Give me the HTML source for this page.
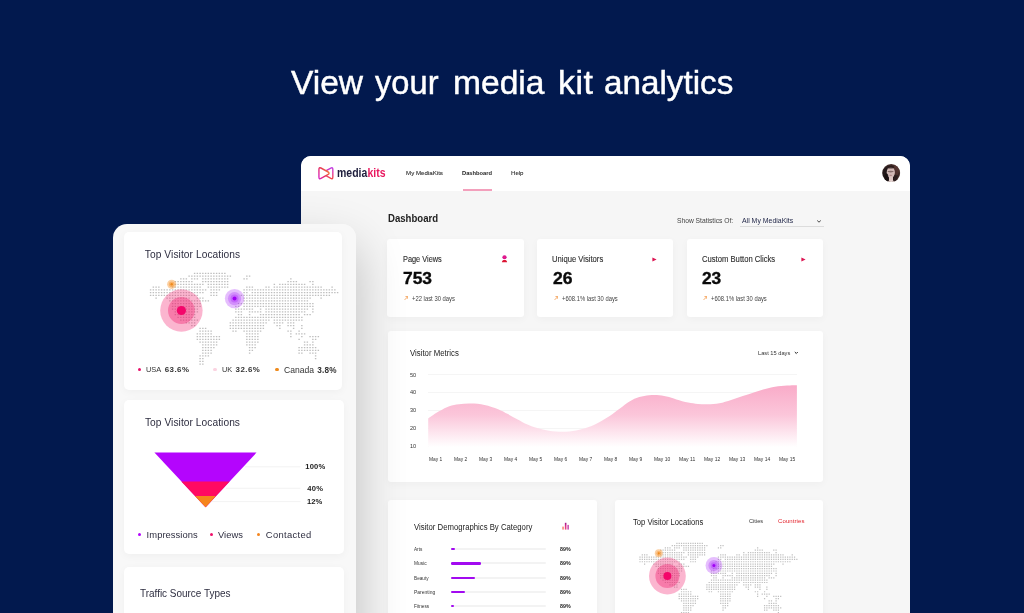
<!DOCTYPE html>
<html><head><meta charset="utf-8"><title>View your media kit analytics</title>
<style>
html,body{margin:0;padding:0;}
body{width:1024px;height:613px;overflow:hidden;background:#02194e;position:relative;font-family:"Liberation Sans",sans-serif;}
.t{position:absolute;white-space:nowrap;line-height:1;font-family:"Liberation Sans",sans-serif;transform-origin:0 50%;}
#w{position:absolute;left:0;top:0;width:1024px;height:613px;will-change:transform;filter:blur(0.35px);}
</style></head><body><div id="w">
<div class="t" style="left:290.50px;top:65.02px;font-size:34px;color:#fff;transform:scaleX(0.9852);-webkit-text-stroke:0.45px #fff;">View</div>
<div class="t" style="left:374.50px;top:65.02px;font-size:34px;color:#fff;transform:scaleX(0.9601);-webkit-text-stroke:0.45px #fff;">your</div>
<div class="t" style="left:453.00px;top:65.02px;font-size:34px;color:#fff;transform:scaleX(0.9881);-webkit-text-stroke:0.45px #fff;">media</div>
<div class="t" style="left:558.00px;top:65.02px;font-size:34px;color:#fff;letter-spacing:0.500px;-webkit-text-stroke:0.45px #fff;">kit</div>
<div class="t" style="left:603.75px;top:65.02px;font-size:34px;color:#fff;transform:scaleX(0.9771);-webkit-text-stroke:0.45px #fff;">analytics</div>
<div style="position:absolute;left:301px;top:155.7px;width:609px;height:477.3px;background:#f6f6f6;border-radius:10px 10px 0 0;overflow:hidden;"><div style="position:absolute;left:0;top:0;width:100%;height:35.10px;background:#fff;"></div></div>
<svg style="position:absolute;left:318.19px;top:165.86px" width="15.87" height="14.86" viewBox="0 0 17 14" preserveAspectRatio="none">
<defs><linearGradient id="lg1" gradientUnits="userSpaceOnUse" x1="0" y1="13" x2="13" y2="3"><stop offset="0" stop-color="#d61ae0"/><stop offset="0.5" stop-color="#e62d5c"/><stop offset="1" stop-color="#f79a2c"/></linearGradient>
<linearGradient id="lg2" gradientUnits="userSpaceOnUse" x1="0" y1="0.5" x2="0" y2="13"><stop offset="0" stop-color="#b93cf2"/><stop offset="0.5" stop-color="#e2349a"/><stop offset="1" stop-color="#f24a36"/></linearGradient></defs>
<path d="M15.90 3.31Q15.90 0.90 13.74 1.96L6.64 5.45Q3.90 6.80 6.64 8.15L13.74 11.64Q15.90 12.70 15.90 10.29Z" fill="none" stroke="url(#lg2)" stroke-width="1.45"/>
<path d="M1.00 3.28Q1.00 0.90 3.15 1.93L10.48 5.45Q13.30 6.80 10.48 8.15L3.15 11.67Q1.00 12.70 1.00 10.32Z" fill="#fff" stroke="url(#lg1)" stroke-width="1.45"/>
</svg>
<div class="t" style="left:337.00px;top:166.83px;font-size:12.6px;color:#1d1d3b;font-weight:700;transform:scaleX(0.8344);">media<span style="color:#e9185f">kits</span></div>
<div class="t" style="left:405.50px;top:169.95px;font-size:6.2px;color:#333;transform:scaleX(0.9944);-webkit-text-stroke:0.12px #333;">My MediaKits</div>
<div class="t" style="left:462.00px;top:169.95px;font-size:6.2px;color:#222;font-weight:700;transform:scaleX(0.9264);">Dashboard</div>
<div class="t" style="left:510.75px;top:169.95px;font-size:6.2px;color:#333;transform:scaleX(0.9803);-webkit-text-stroke:0.12px #333;">Help</div>
<div class="" style="position:absolute;left:463.00px;top:189.10px;width:29.00px;height:1.50px;background:#f3a0bc;"></div>
<svg style="position:absolute;left:882.2px;top:164.2px" width="18.4" height="18.4" viewBox="0 0 18.4 18.4">
<defs><clipPath id="av"><circle cx="9.2" cy="9.1" r="9.0"/></clipPath>
<radialGradient id="avg" cx="0.42" cy="0.55" r="0.62"><stop offset="0" stop-color="#1a1416"/><stop offset="0.6" stop-color="#231819"/><stop offset="1" stop-color="#5e3f38"/></radialGradient>
<filter id="bl" x="-30%" y="-30%" width="160%" height="160%"><feGaussianBlur stdDeviation="0.55"/></filter></defs>
<g clip-path="url(#av)"><rect width="18.4" height="18.4" fill="url(#avg)"/>
<g filter="url(#bl)">
<ellipse cx="13.6" cy="6.5" rx="3.2" ry="5.5" fill="#5a3a35" opacity=".8"/>
<ellipse cx="8.8" cy="8.5" rx="4.1" ry="5.6" fill="#d2b9b6"/>
<rect x="7.0" y="12.6" width="4.0" height="6.5" fill="#dcc6c3"/>
<ellipse cx="9.2" cy="19.3" rx="5.4" ry="2.8" fill="#eadbd8"/>
<ellipse cx="8.6" cy="7.6" rx="3.2" ry="0.8" fill="#4a3232" opacity=".55"/>
<ellipse cx="8.7" cy="11.3" rx="1.3" ry="0.55" fill="#8a5558" opacity=".6"/>
<ellipse cx="8.7" cy="3.2" rx="3.6" ry="1.4" fill="#2a1c1c" opacity=".8"/>
<ellipse cx="4.6" cy="13.5" rx="1.8" ry="4" fill="#151012" opacity=".9"/>
<ellipse cx="13.4" cy="14" rx="1.7" ry="3.6" fill="#2b1e1e" opacity=".9"/>
</g></g></svg>
<div class="t" style="left:388.00px;top:214.00px;font-size:10.4px;color:#222;font-weight:700;transform:scaleX(0.9241);">Dashboard</div>
<div class="t" style="left:676.75px;top:217.27px;font-size:7px;color:#444;transform:scaleX(0.9567);">Show Statistics Of:</div>
<div class="t" style="left:742.00px;top:217.27px;font-size:7px;color:#1d2345;transform:scaleX(0.9897);">All My MediaKits</div>
<div class="" style="position:absolute;left:740.00px;top:225.50px;width:83.70px;height:0.80px;background:#dcdcdc;"></div>
<svg style="position:absolute;left:815.5px;top:218.5px" width="6" height="5" viewBox="0 0 6 5"><path d="M1.2 1.5 L3 3.2 L4.8 1.5" fill="none" stroke="#333" stroke-width="0.9"/></svg>
<div class="" style="position:absolute;left:387.00px;top:238.75px;width:137.20px;height:78.25px;background:#fff;box-shadow:0 2px 8px rgba(0,0,0,0.035);border-radius:3px;"></div>
<div class="t" style="left:402.50px;top:254.72px;font-size:8.6px;color:#2c2c2c;transform:scaleX(0.8562);-webkit-text-stroke:0.12px #2c2c2c;">Page Views</div>
<div class="t" style="left:403.00px;top:269.99px;font-size:16.2px;color:#0a0a0a;font-weight:700;transform:scaleX(1.0729);-webkit-text-stroke:0.35px #0a0a0a;">753</div>
<div class="t" style="left:412.00px;top:296.04px;font-size:6.8px;color:#444;transform:scaleX(0.8650);">+22 last 30 days</div>
<svg style="position:absolute;left:403.5px;top:296.0px" width="4.4" height="4.4" viewBox="0 0 4.4 4.4"><path d="M0.6 3.9 L3.7 0.8 M1.5 0.6 H3.9 V3" fill="none" stroke="#f39a4a" stroke-width="0.85"/></svg>
<div class="" style="position:absolute;left:537.00px;top:238.75px;width:136.30px;height:78.25px;background:#fff;box-shadow:0 2px 8px rgba(0,0,0,0.035);border-radius:3px;"></div>
<div class="t" style="left:552.00px;top:254.72px;font-size:8.6px;color:#2c2c2c;transform:scaleX(0.8885);-webkit-text-stroke:0.12px #2c2c2c;">Unique Visitors</div>
<div class="t" style="left:552.50px;top:269.99px;font-size:16.2px;color:#0a0a0a;font-weight:700;transform:scaleX(1.0822);-webkit-text-stroke:0.35px #0a0a0a;">26</div>
<div class="t" style="left:561.75px;top:296.04px;font-size:6.8px;color:#444;transform:scaleX(0.8549);">+608.1% last 30 days</div>
<svg style="position:absolute;left:553.5px;top:296.0px" width="4.4" height="4.4" viewBox="0 0 4.4 4.4"><path d="M0.6 3.9 L3.7 0.8 M1.5 0.6 H3.9 V3" fill="none" stroke="#f39a4a" stroke-width="0.85"/></svg>
<div class="" style="position:absolute;left:686.75px;top:238.75px;width:136.25px;height:78.25px;background:#fff;box-shadow:0 2px 8px rgba(0,0,0,0.035);border-radius:3px;"></div>
<div class="t" style="left:701.75px;top:254.72px;font-size:8.6px;color:#2c2c2c;transform:scaleX(0.8911);-webkit-text-stroke:0.12px #2c2c2c;">Custom Button Clicks</div>
<div class="t" style="left:702.00px;top:269.99px;font-size:16.2px;color:#0a0a0a;font-weight:700;transform:scaleX(1.0683);-webkit-text-stroke:0.35px #0a0a0a;">23</div>
<div class="t" style="left:711.25px;top:296.04px;font-size:6.8px;color:#444;transform:scaleX(0.8549);">+608.1% last 30 days</div>
<svg style="position:absolute;left:703px;top:296.0px" width="4.4" height="4.4" viewBox="0 0 4.4 4.4"><path d="M0.6 3.9 L3.7 0.8 M1.5 0.6 H3.9 V3" fill="none" stroke="#f39a4a" stroke-width="0.85"/></svg>
<svg style="position:absolute;left:500.9px;top:254.8px" width="7" height="8" viewBox="0 0 7 8">
<defs><radialGradient id="hd"><stop offset="0" stop-color="#f21a8a"/><stop offset="1" stop-color="#d0128c"/></radialGradient></defs>
<circle cx="3.5" cy="2.25" r="2.1" fill="url(#hd)"/><path d="M0.9 7.2 C0.9 5.6 2.1 5.0 3.5 5.0 C4.9 5.0 6.1 5.6 6.1 7.2 Z" fill="#dc1533"/></svg>
<svg style="position:absolute;left:651.8px;top:256.6px" width="5" height="5" viewBox="0 0 5 5"><path d="M0.4 0.4 L4.6 2.5 L0.4 4.6 Z" fill="#dc1452"/></svg>
<svg style="position:absolute;left:801.2px;top:256.6px" width="5" height="5" viewBox="0 0 5 5"><path d="M0.4 0.4 L4.6 2.5 L0.4 4.6 Z" fill="#dc1452"/></svg>
<div class="" style="position:absolute;left:387.60px;top:330.70px;width:435.60px;height:151.60px;background:#fff;box-shadow:0 2px 8px rgba(0,0,0,0.035);border-radius:3px;"></div>
<div class="t" style="left:409.50px;top:349.27px;font-size:8.3px;color:#222;transform:scaleX(0.9392);">Visitor Metrics</div>
<div class="t" style="left:758.00px;top:349.52px;font-size:6px;color:#333;transform:scaleX(0.9494);">Last 15 days</div>
<svg style="position:absolute;left:794px;top:350.6px" width="4.6" height="4" viewBox="0 0 4.6 4"><path d="M0.8 1 L2.3 2.5 L3.8 1" fill="none" stroke="#222" stroke-width="1.0"/></svg>
<div class="t" style="left:410.00px;top:372.79px;font-size:5.8px;color:#333;transform:scaleX(0.9610);">50</div>
<div class="" style="position:absolute;left:428.30px;top:374.40px;width:369.00px;height:0.80px;background:#f5f5f5;"></div>
<div class="t" style="left:410.00px;top:390.49px;font-size:5.8px;color:#333;transform:scaleX(0.9610);">40</div>
<div class="" style="position:absolute;left:428.30px;top:392.10px;width:369.00px;height:0.80px;background:#f5f5f5;"></div>
<div class="t" style="left:410.00px;top:408.29px;font-size:5.8px;color:#333;transform:scaleX(0.9610);">30</div>
<div class="" style="position:absolute;left:428.30px;top:409.90px;width:369.00px;height:0.80px;background:#f5f5f5;"></div>
<div class="t" style="left:410.00px;top:426.19px;font-size:5.8px;color:#333;transform:scaleX(0.9610);">20</div>
<div class="" style="position:absolute;left:428.30px;top:427.80px;width:369.00px;height:0.80px;background:#f5f5f5;"></div>
<div class="t" style="left:410.00px;top:444.19px;font-size:5.8px;color:#333;transform:scaleX(0.9610);">10</div>
<div class="" style="position:absolute;left:428.30px;top:445.80px;width:369.00px;height:0.80px;background:#f5f5f5;"></div>
<svg style="position:absolute;left:0;top:0" width="1024" height="613" viewBox="0 0 1024 613">
<defs><linearGradient id="ag" gradientUnits="userSpaceOnUse" x1="0" y1="383" x2="0" y2="447"><stop offset="0" stop-color="#f9a9c7"/><stop offset="0.5" stop-color="#fbc6da"/><stop offset="1" stop-color="#ffffff"/></linearGradient></defs>
<path d="M428.2 418.4C430.1 417.2 436.0 413.1 439.5 411.1C443.0 409.1 446.1 407.5 449.3 406.3C452.6 405.1 455.4 404.7 459.0 404.2C462.6 403.7 466.6 403.4 470.8 403.5C475.1 403.6 479.9 403.9 484.5 404.9C489.1 405.8 494.2 407.7 498.1 409.2C502.0 410.7 504.6 412.4 507.9 414.1C511.2 415.8 514.5 417.8 517.7 419.5C521.0 421.2 524.1 423.2 527.4 424.6C530.6 426.0 533.6 427.1 537.2 428.1C540.8 429.1 544.7 430.1 548.9 430.7C553.1 431.3 558.0 431.8 562.6 431.8C567.2 431.8 572.0 431.2 576.2 430.5C580.5 429.8 584.1 428.7 588.0 427.3C591.9 425.9 596.1 423.8 599.7 421.9C603.3 420.0 606.3 418.2 609.7 416.0C613.1 413.8 616.6 411.0 619.9 408.6C623.2 406.2 626.3 403.4 629.5 401.5C632.7 399.6 636.0 398.1 639.3 397.1C642.5 396.1 646.1 395.6 649.0 395.3C651.9 395.0 654.0 394.9 656.9 395.1C659.8 395.2 663.4 395.8 666.6 396.5C669.9 397.2 672.8 398.4 676.4 399.4C680.0 400.4 684.5 401.8 688.1 402.5C691.7 403.2 694.6 403.6 697.9 403.9C701.2 404.2 704.1 404.4 707.7 404.3C711.3 404.2 715.5 404.0 719.4 403.3C723.3 402.6 727.2 401.2 731.1 400.0C735.0 398.8 738.9 397.4 742.8 396.1C746.7 394.8 750.6 393.4 754.5 392.2C758.4 391.0 762.3 389.7 766.2 388.7C770.2 387.7 774.1 386.9 778.0 386.3C781.9 385.7 786.6 385.5 789.7 385.4C792.9 385.2 795.7 385.2 796.9 385.2L796.9 447 L428.2 447 Z" fill="url(#ag)"/></svg>
<div class="t" style="left:428.80px;top:457.09px;font-size:5.8px;color:#333;transform:scaleX(0.8421);">May 1</div>
<div class="t" style="left:453.80px;top:457.09px;font-size:5.8px;color:#333;transform:scaleX(0.8421);">May 2</div>
<div class="t" style="left:478.80px;top:457.09px;font-size:5.8px;color:#333;transform:scaleX(0.8421);">May 3</div>
<div class="t" style="left:503.80px;top:457.09px;font-size:5.8px;color:#333;transform:scaleX(0.8421);">May 4</div>
<div class="t" style="left:528.80px;top:457.09px;font-size:5.8px;color:#333;transform:scaleX(0.8421);">May 5</div>
<div class="t" style="left:553.80px;top:457.09px;font-size:5.8px;color:#333;transform:scaleX(0.8421);">May 6</div>
<div class="t" style="left:578.80px;top:457.09px;font-size:5.8px;color:#333;transform:scaleX(0.8421);">May 7</div>
<div class="t" style="left:603.80px;top:457.09px;font-size:5.8px;color:#333;transform:scaleX(0.8421);">May 8</div>
<div class="t" style="left:628.80px;top:457.09px;font-size:5.8px;color:#333;transform:scaleX(0.8421);">May 9</div>
<div class="t" style="left:653.50px;top:457.09px;font-size:5.8px;color:#333;transform:scaleX(0.8517);">May 10</div>
<div class="t" style="left:678.50px;top:457.09px;font-size:5.8px;color:#333;transform:scaleX(0.8715);">May 11</div>
<div class="t" style="left:703.50px;top:457.09px;font-size:5.8px;color:#333;transform:scaleX(0.8517);">May 12</div>
<div class="t" style="left:728.50px;top:457.09px;font-size:5.8px;color:#333;transform:scaleX(0.8517);">May 13</div>
<div class="t" style="left:753.50px;top:457.09px;font-size:5.8px;color:#333;transform:scaleX(0.8517);">May 14</div>
<div class="t" style="left:778.50px;top:457.09px;font-size:5.8px;color:#333;transform:scaleX(0.8517);">May 15</div>
<div class="" style="position:absolute;left:388.00px;top:499.90px;width:208.80px;height:140.00px;background:#fff;box-shadow:0 2px 8px rgba(0,0,0,0.035);border-radius:3px;"></div>
<div class="t" style="left:413.70px;top:522.97px;font-size:8.3px;color:#222;transform:scaleX(0.9345);">Visitor Demographics By Category</div>
<svg style="position:absolute;left:562.2px;top:522.4px" width="7.2" height="7.6" viewBox="0 0 7.2 7.6">
<defs><linearGradient id="bg2" x1="0" y1="0" x2="0" y2="1"><stop offset="0" stop-color="#9c148a"/><stop offset="0.5" stop-color="#e0358c"/><stop offset="1" stop-color="#ec4a7c"/></linearGradient></defs><rect x="0.3" y="4.6" width="1.5" height="3.0" fill="#f68070"/><rect x="2.85" y="0.8" width="1.6" height="6.8" fill="url(#bg2)"/><rect x="5.4" y="2.9" width="1.5" height="4.7" fill="#c848b0"/></svg>
<div class="t" style="left:413.70px;top:547.14px;font-size:5.5px;color:#333;transform:scaleX(0.8488);">Arts</div>
<div class="" style="position:absolute;left:450.80px;top:548.20px;width:95.40px;height:2.20px;background:#f3f3f3;border-radius:1.1px;"></div>
<div class="" style="position:absolute;left:450.80px;top:548.10px;width:4.50px;height:2.40px;background:#a20af0;border-radius:1.2px;"></div>
<div class="t" style="left:559.70px;top:547.14px;font-size:5.5px;color:#222;font-weight:700;transform:scaleX(0.9629);">89%</div>
<div class="t" style="left:413.70px;top:561.24px;font-size:5.5px;color:#333;transform:scaleX(0.8773);">Music</div>
<div class="" style="position:absolute;left:450.80px;top:562.30px;width:95.40px;height:2.20px;background:#f3f3f3;border-radius:1.1px;"></div>
<div class="" style="position:absolute;left:450.80px;top:562.20px;width:30.30px;height:2.40px;background:#a20af0;border-radius:1.2px;"></div>
<div class="t" style="left:559.70px;top:561.24px;font-size:5.5px;color:#222;font-weight:700;transform:scaleX(0.9629);">89%</div>
<div class="t" style="left:413.70px;top:575.64px;font-size:5.5px;color:#333;transform:scaleX(0.8526);">Beauty</div>
<div class="" style="position:absolute;left:450.80px;top:576.70px;width:95.40px;height:2.20px;background:#f3f3f3;border-radius:1.1px;"></div>
<div class="" style="position:absolute;left:450.80px;top:576.60px;width:24.20px;height:2.40px;background:#a20af0;border-radius:1.2px;"></div>
<div class="t" style="left:559.70px;top:575.64px;font-size:5.5px;color:#222;font-weight:700;transform:scaleX(0.9629);">89%</div>
<div class="t" style="left:413.70px;top:590.04px;font-size:5.5px;color:#333;transform:scaleX(0.9004);">Parenting</div>
<div class="" style="position:absolute;left:450.80px;top:591.10px;width:95.40px;height:2.20px;background:#f3f3f3;border-radius:1.1px;"></div>
<div class="" style="position:absolute;left:450.80px;top:591.00px;width:14.60px;height:2.40px;background:#a20af0;border-radius:1.2px;"></div>
<div class="t" style="left:559.70px;top:590.04px;font-size:5.5px;color:#222;font-weight:700;transform:scaleX(0.9629);">89%</div>
<div class="t" style="left:413.70px;top:603.94px;font-size:5.5px;color:#333;transform:scaleX(0.8574);">Fitness</div>
<div class="" style="position:absolute;left:450.80px;top:605.00px;width:95.40px;height:2.20px;background:#f3f3f3;border-radius:1.1px;"></div>
<div class="" style="position:absolute;left:450.80px;top:604.90px;width:3.00px;height:2.40px;background:#a20af0;border-radius:1.2px;"></div>
<div class="t" style="left:559.70px;top:603.94px;font-size:5.5px;color:#222;font-weight:700;transform:scaleX(0.9629);">89%</div>
<div class="" style="position:absolute;left:614.60px;top:499.90px;width:208.20px;height:140.00px;background:#fff;box-shadow:0 2px 8px rgba(0,0,0,0.035);border-radius:3px;"></div>
<div class="t" style="left:632.60px;top:518.27px;font-size:8.3px;color:#222;transform:scaleX(0.9197);">Top Visitor Locations</div>
<div class="t" style="left:749.40px;top:518.42px;font-size:6px;color:#333;transform:scaleX(0.9398);">Cities</div>
<div class="t" style="left:778.10px;top:518.42px;font-size:6px;color:#e3222b;letter-spacing:0.078px;">Countries</div>
<svg width="0" height="0" style="position:absolute"><defs><path id="wm" d="M43.28 0.00H74.97M37.78 2.75H80.47M95.53 2.75H99.72M29.53 5.50H36.47M40.53 5.50H47.47M51.53 5.50H77.72M92.78 5.50H96.97M139.53 5.50H140.97M24.03 8.25H41.97M51.53 8.25H77.72M136.78 8.25H146.47M158.78 8.25H162.97M24.03 11.00H52.97M57.03 11.00H77.72M123.03 11.00H124.47M128.53 11.00H154.72M161.53 11.00H162.97M2.03 13.75H8.97M21.28 13.75H50.22M57.03 13.75H77.72M95.53 13.75H102.47M114.78 13.75H118.97M123.03 13.75H171.22M180.78 13.75H182.22M-0.72 16.50H55.72M59.78 16.50H69.47M92.78 16.50H184.97M-0.72 19.25H52.97M59.78 19.25H66.72M92.78 19.25H96.97M101.03 19.25H187.72M-0.72 22.00H47.47M59.78 22.00H66.72M90.03 22.00H96.97M98.28 22.00H179.47M4.78 24.75H6.22M15.78 24.75H39.22M46.03 24.75H52.97M92.78 24.75H160.22M169.78 24.75H171.22M18.53 27.50H58.47M92.78 27.50H157.47M21.28 30.25H50.22M87.28 30.25H162.97M21.28 33.00H50.22M84.53 33.00H88.72M92.78 33.00H99.72M101.03 33.00H162.97M21.28 35.75H47.47M84.53 35.75H91.47M92.78 35.75H102.47M109.28 35.75H110.72M114.78 35.75H157.47M161.53 35.75H162.97M24.03 38.50H47.47M84.53 38.50H91.47M98.28 38.50H110.72M114.78 38.50H154.72M161.53 38.50H162.97M24.03 41.25H44.72M87.28 41.25H91.47M98.28 41.25H99.72M109.28 41.25H149.22M153.28 41.25H160.22M26.78 44.00H44.72M84.53 44.00H151.97M29.53 46.75H47.47M81.78 46.75H118.97M123.03 46.75H151.97M35.03 49.50H44.72M79.03 49.50H116.22M123.03 49.50H132.72M136.78 49.50H143.72M40.53 52.25H44.72M79.03 52.25H113.47M125.78 52.25H129.97M136.78 52.25H143.72M150.53 52.25H151.97M48.78 55.00H55.72M79.03 55.00H113.47M128.53 55.00H129.97M142.28 55.00H143.72M150.53 55.00H151.97M48.78 57.75H61.22M81.78 57.75H85.97M92.78 57.75H110.72M136.78 57.75H140.97M147.78 57.75H149.22M46.03 60.50H61.22M95.53 60.50H107.97M139.53 60.50H140.97M145.03 60.50H154.72M46.03 63.25H69.47M95.53 63.25H107.97M139.53 63.25H140.97M150.53 63.25H151.97M158.78 63.25H168.47M46.03 66.00H69.47M95.53 66.00H107.97M147.78 66.00H149.22M161.53 66.00H165.72M48.78 68.75H66.72M95.53 68.75H107.97M153.28 68.75H157.47M161.53 68.75H162.97M51.53 71.50H66.72M95.53 71.50H105.22M153.28 71.50H162.97M51.53 74.25H63.97M98.28 74.25H105.22M147.78 74.25H165.72M51.53 77.00H61.22M98.28 77.00H102.47M147.78 77.00H168.47M51.53 79.75H61.22M98.28 79.75H99.72M147.78 79.75H151.97M158.78 79.75H165.72M48.78 82.50H58.47M164.28 82.50H165.72M48.78 85.25H52.97M164.28 85.25H165.72M48.78 88.00H52.97M48.78 90.75H52.97" fill="none" stroke="#bebebe" stroke-width="1.44" stroke-dasharray="1.44 1.31"/></defs></svg>
<svg style="position:absolute;left:0;top:0" width="1024" height="613" viewBox="0 0 1024 613"><g transform="translate(640.0,543.3) scale(0.8388)"><use href="#wm"/></g><circle cx="667.4" cy="576" r="18.4" fill="rgba(242,30,110,0.33)"/><circle cx="667.4" cy="576" r="12" fill="rgba(242,30,110,0.38)"/><circle cx="667.4" cy="576" r="4" fill="#f4056a"/><circle cx="713.9" cy="565.5" r="8.4" fill="rgba(170,40,250,0.3)"/><circle cx="713.9" cy="565.5" r="5.5" fill="rgba(170,40,250,0.3)"/><circle cx="713.9" cy="565.5" r="3.2" fill="rgba(170,40,250,0.35)"/><circle cx="713.9" cy="565.5" r="1.5" fill="#a000f5"/><circle cx="658.8" cy="553.3" r="4" fill="rgba(247,150,50,0.45)"/><circle cx="658.8" cy="553.3" r="2.4" fill="rgba(247,150,50,0.5)"/><circle cx="658.8" cy="553.3" r="1" fill="#ef8a1c"/></svg>
<div style="position:absolute;left:301px;top:155.7px;width:609px;height:477.3px;border-radius:10px 10px 0 0;overflow:hidden;"><div style="position:absolute;left:-188.50px;top:68.30px;width:243.40px;height:420px;border-radius:14px 14px 0 0;box-shadow:0 22px 50px rgba(0,0,0,0.24);"></div></div>
<div class="" style="position:absolute;left:112.50px;top:224.00px;width:243.40px;height:420.00px;background:#f8f8f8;border-radius:14px 14px 0 0;"></div>
<div class="" style="position:absolute;left:124.00px;top:231.70px;width:218.40px;height:158.30px;background:#fff;box-shadow:0 2px 8px rgba(0,0,0,0.04);border-radius:5px;"></div>
<div class="" style="position:absolute;left:123.50px;top:399.80px;width:220.30px;height:154.00px;background:#fff;box-shadow:0 2px 8px rgba(0,0,0,0.04);border-radius:5px;"></div>
<div class="" style="position:absolute;left:123.50px;top:567.00px;width:220.30px;height:100.00px;background:#fff;box-shadow:0 2px 8px rgba(0,0,0,0.04);border-radius:5px;"></div>
<div class="t" style="left:144.80px;top:249.57px;font-size:10.2px;color:#2e2e40;letter-spacing:0.078px;">Top Visitor Locations</div>
<svg style="position:absolute;left:0;top:0" width="1024" height="613" viewBox="0 0 1024 613"><g transform="translate(150.6,273.4)"><use href="#wm"/></g><circle cx="181.4" cy="310.5" r="21.2" fill="rgba(242,30,110,0.33)"/><circle cx="181.4" cy="310.5" r="13.4" fill="rgba(242,30,110,0.38)"/><circle cx="181.4" cy="310.5" r="4.6" fill="#f4056a"/><circle cx="234.55" cy="298.6" r="9.7" fill="rgba(170,40,250,0.3)"/><circle cx="234.55" cy="298.6" r="6.6" fill="rgba(170,40,250,0.3)"/><circle cx="234.55" cy="298.6" r="4" fill="rgba(170,40,250,0.35)"/><circle cx="234.55" cy="298.6" r="2" fill="#a000f5"/><circle cx="171.7" cy="284.3" r="4.6" fill="rgba(247,150,50,0.45)"/><circle cx="171.7" cy="284.3" r="2.8" fill="rgba(247,150,50,0.5)"/><circle cx="171.7" cy="284.3" r="1.2" fill="#ef8a1c"/></svg>
<div class="" style="position:absolute;left:137.65px;top:367.65px;width:3.50px;height:3.50px;background:#e8106a;border-radius:50%;"></div>
<div class="t" style="left:145.80px;top:365.81px;font-size:7.9px;color:#333;transform:scaleX(0.9419);">USA</div>
<div class="t" style="left:164.70px;top:365.81px;font-size:7.9px;color:#333;font-weight:700;letter-spacing:0.475px;">63.6%</div>
<div class="" style="position:absolute;left:213.45px;top:367.65px;width:3.50px;height:3.50px;background:#fbd3e1;border-radius:50%;"></div>
<div class="t" style="left:222.10px;top:365.81px;font-size:7.9px;color:#333;transform:scaleX(0.9385);">UK</div>
<div class="t" style="left:235.60px;top:365.81px;font-size:7.9px;color:#333;font-weight:700;letter-spacing:0.475px;">32.6%</div>
<div class="" style="position:absolute;left:275.35px;top:367.65px;width:3.50px;height:3.50px;background:#ef8a1c;border-radius:50%;"></div>
<div class="t" style="left:284.00px;top:365.51px;font-size:9.2px;color:#333;transform:scaleX(0.9309);">Canada</div>
<div class="t" style="left:317.30px;top:366.76px;font-size:8.2px;color:#333;font-weight:700;letter-spacing:0.203px;">3.8%</div>
<div class="t" style="left:144.90px;top:417.77px;font-size:10.2px;color:#2e2e40;letter-spacing:0.063px;">Top Visitor Locations</div>
<svg style="position:absolute;left:0;top:0" width="1024" height="613" viewBox="0 0 1024 613">
<path d="M245 466.8H300.4M226 488.3H300.4M212 501.6H300.4" stroke="#efefef" stroke-width="0.8" fill="none"/>
<path d="M154.4 452.6 L256.5 452.6 L205.6 507.2 Z" fill="#b405fd"/>
<path d="M181.3 481.4 L229.6 481.4 L205.6 507.2 Z" fill="#ff0a62"/>
<path d="M195.0 496.1 L215.9 496.1 L205.6 507.2 Z" fill="#f5851d"/>
</svg>
<div class="t" style="left:305.30px;top:463.07px;font-size:7.6px;color:#222;font-weight:700;letter-spacing:0.187px;">100%</div>
<div class="t" style="left:307.30px;top:484.57px;font-size:7.6px;color:#222;font-weight:700;letter-spacing:0.194px;">40%</div>
<div class="t" style="left:307.30px;top:497.87px;font-size:7.6px;color:#222;font-weight:700;transform:scaleX(0.9993);">12%</div>
<div class="" style="position:absolute;left:138.20px;top:532.90px;width:3.20px;height:3.20px;background:#b405fd;border-radius:50%;"></div>
<div class="t" style="left:146.60px;top:530.24px;font-size:9.4px;color:#2e2e40;letter-spacing:0.063px;">Impressions</div>
<div class="" style="position:absolute;left:210.20px;top:532.90px;width:3.20px;height:3.20px;background:#f0106a;border-radius:50%;"></div>
<div class="t" style="left:218.20px;top:530.24px;font-size:9.4px;color:#2e2e40;transform:scaleX(0.9998);">Views</div>
<div class="" style="position:absolute;left:257.30px;top:532.90px;width:3.20px;height:3.20px;background:#f5851d;border-radius:50%;"></div>
<div class="t" style="left:265.80px;top:530.24px;font-size:9.4px;color:#2e2e40;letter-spacing:0.344px;">Contacted</div>
<div class="t" style="left:139.80px;top:588.57px;font-size:10.2px;color:#2e2e40;transform:scaleX(0.9764);">Traffic Source Types</div>
</div></body></html>
